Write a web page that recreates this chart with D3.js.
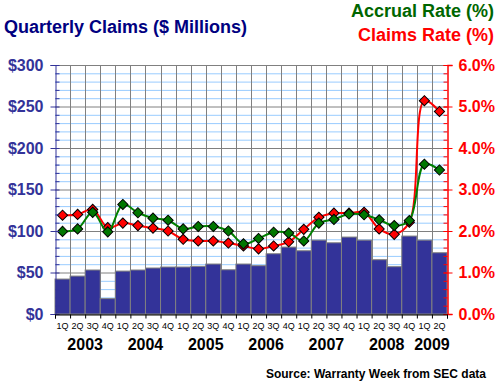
<!DOCTYPE html>
<html>
<head>
<meta charset="utf-8">
<script src="https://cdn.jsdelivr.net/npm/d3@7"></script>
<style>
  body { margin: 0; background: #fff; }
  svg { font-family: 'Liberation Sans', Arial, sans-serif; }
</style>
</head>
<body>
<div id="chart"></div>
<script>
// quarters 2003 1Q .. 2009 2Q
const quarters = [
  '2003-1Q', '2003-2Q', '2003-3Q', '2003-4Q',
  '2004-1Q', '2004-2Q', '2004-3Q', '2004-4Q',
  '2005-1Q', '2005-2Q', '2005-3Q', '2005-4Q',
  '2006-1Q', '2006-2Q', '2006-3Q', '2006-4Q',
  '2007-1Q', '2007-2Q', '2007-3Q', '2007-4Q',
  '2008-1Q', '2008-2Q', '2008-3Q', '2008-4Q',
  '2009-1Q', '2009-2Q'
]
const years = ['2003', '2004', '2005', '2006', '2007', '2008', '2009']

// $ millions
const claims = [42.1, 45.7, 53, 18.5, 51.7, 53, 55.4, 56.6, 56.6, 57.4, 60.2, 53.3, 60.2,
  58.2, 72.6, 80.6, 76.2, 89, 85.8, 92.7, 89, 65.4, 57, 93.9, 89, 73.8]
// percent
const claimsRate = [2.38, 2.40, 2.52, 2.08, 2.19, 2.13, 2.07, 2.0, 1.80, 1.76, 1.76, 1.71, 1.64,
  1.57, 1.64, 1.74, 2.04, 2.33, 2.43, 2.43, 2.45, 2.05, 1.92, 2.21, 5.14, 4.88]
const accrualRate = [1.99, 2.05, 2.45, 1.98, 2.64, 2.44, 2.31, 2.26, 2.05, 2.11, 2.11, 2.0, 1.69,
  1.82, 1.97, 1.95, 1.76, 2.19, 2.28, 2.41, 2.39, 2.27, 2.13, 2.25, 3.61, 3.47]

const leftTicks = [0, 50, 100, 150, 200, 250, 300]
const rightTicks = [0, 1, 2, 3, 4, 5, 6]

const margin = { top: 65, right: 53, bottom: 71, left: 55 }
const W = 500, H = 385
const width = W - margin.left - margin.right,
  height = H - margin.top - margin.bottom

const navy = '#333399'

const svg = d3.select('#chart').append('svg')
  .attr('width', W)
  .attr('height', H)

const g = svg.append('g')
  .attr('transform', 'translate(' + margin.left + ',' + margin.top + ')')

let xScale = d3.scaleBand()
  .domain(quarters)
  .range([0, width])

let xLin = d3.scaleLinear()
  .domain([0, quarters.length])
  .range([0, width])

let yLeft = d3.scaleLinear().domain([0, 300]).range([height, 0])
let yRight = d3.scaleLinear().domain([0, 6]).range([height, 0])

// minor gridlines
g.append('g')
  .selectAll('line')
  .data(d3.range(0, 301, 10).filter(v => v % 50 !== 0))
  .enter().append('line')
  .attr('x1', 0).attr('x2', width)
  .attr('y1', d => yLeft(d) + 0.5).attr('y2', d => yLeft(d) + 0.5)
  .style('stroke', '#99ccff')

// major gridlines
g.append('g')
  .selectAll('line')
  .data(leftTicks)
  .enter().append('line')
  .attr('x1', 0).attr('x2', width)
  .attr('y1', d => yLeft(d) + 0.5).attr('y2', d => yLeft(d) + 0.5)
  .style('stroke', '#808080')

g.append('g')
  .selectAll('line')
  .data(d3.range(1, quarters.length))
  .enter().append('line')
  .attr('x1', d => Math.round(xLin(d)) + 0.5).attr('x2', d => Math.round(xLin(d)) + 0.5)
  .attr('y1', 0).attr('y2', height)
  .style('stroke', '#808080')

// bars
g.append('g')
  .selectAll('rect')
  .data(claims)
  .enter().append('rect')
  .attr('x', (d, i) => xScale(quarters[i]))
  .attr('width', xScale.bandwidth())
  .attr('y', d => yLeft(d))
  .attr('height', d => height - yLeft(d))
  .style('fill', navy)
  .style('stroke', '#808080')
  .style('stroke-width', 1)

// lines + markers
const cx = i => xScale(quarters[i]) + xScale.bandwidth() / 2
const drawSeries = (data, color, markerFill) => {
  const line = d3.line()
    .x((d, i) => cx(i))
    .y(d => yRight(d))
    .curve(d3.curveCatmullRom.alpha(0.5))
  g.append('path')
    .datum(data)
    .attr('d', line)
    .style('fill', 'none')
    .style('stroke', color)
    .style('stroke-width', 2)
  g.append('g')
    .selectAll('path')
    .data(data)
    .enter().append('path')
    .attr('d', d3.symbol().type(d3.symbolSquare).size(52))
    .attr('transform', (d, i) => 'translate(' + cx(i) + ',' + yRight(d) + ') rotate(45)')
    .style('fill', markerFill)
    .style('stroke', '#000')
    .style('stroke-width', 1)
}
drawSeries(claimsRate, '#ff0000', '#ff0000')
drawSeries(accrualRate, '#008000', '#007700')

// left axis
let lAxis = d3.axisLeft(yLeft).tickValues(leftTicks).tickSize(5)
  .tickFormat(d => '$' + d)
let lGuide = g.append('g').attr('transform', 'translate(0.5,0)')
lAxis(lGuide)
lGuide.select('.domain').style('stroke', navy)
lGuide.selectAll('.tick line').style('stroke', navy)
lGuide.selectAll('text')
  .style('fill', navy).style('font-size', '16px').style('font-weight', 'bold')
  .attr('x', -12)
let lMinor = d3.axisLeft(yLeft).tickValues(d3.range(0, 301, 10)).tickSize(-4).tickFormat('')
let lmGuide = g.append('g').attr('transform', 'translate(0.5,0)')
lMinor(lmGuide)
lmGuide.select('.domain').remove()
lmGuide.selectAll('.tick line').style('stroke', navy)

// right axis
let rAxis = d3.axisRight(yRight).tickValues(rightTicks).tickSize(5)
  .tickFormat(d => d.toFixed(1) + '%')
let rGuide = g.append('g').attr('transform', 'translate(' + (width + 0.5) + ',0)')
rAxis(rGuide)
rGuide.select('.domain').style('stroke', '#ff0000').style('stroke-width', 1.5)
rGuide.selectAll('.tick line').style('stroke', '#ff0000').attr('x1', -4)
rGuide.selectAll('text')
  .style('fill', '#ff0000').style('font-size', '16px').style('font-weight', 'bold')
  .attr('x', 11)
let rMinor = d3.axisRight(yRight).tickValues(d3.range(0, 6.01, 0.2)).tickSize(-4).tickFormat('')
let rmGuide = g.append('g').attr('transform', 'translate(' + (width + 0.5) + ',0)')
rMinor(rmGuide)
rmGuide.select('.domain').remove()
rmGuide.selectAll('.tick line').style('stroke', '#ff0000')

// bottom axis
let bTicks = d3.axisBottom(xLin).tickValues(d3.range(0, quarters.length + 1)).tickSize(4).tickFormat('')
let bGuide = g.append('g').attr('transform', 'translate(0,' + (height + 0.5) + ')')
bTicks(bGuide)
bGuide.select('.domain').style('stroke', '#000')
bGuide.selectAll('.tick line').style('stroke', '#000')

let qAxis = d3.axisBottom(xScale).tickSize(0).tickFormat(d => d.split('-')[1])
let qGuide = g.append('g').attr('transform', 'translate(0,' + height + ')')
qAxis(qGuide)
qGuide.select('.domain').remove()
qGuide.selectAll('text')
  .attr('y', 9)
  .style('font-size', '9px').style('fill', '#000')

// year labels
g.append('g')
  .selectAll('text')
  .data(years)
  .enter().append('text')
  .attr('x', yr => {
    const idx = quarters.map((q, i) => q.startsWith(yr) ? i : -1).filter(i => i >= 0)
    return (cx(idx[0]) + cx(idx[idx.length - 1])) / 2
  })
  .attr('y', height + 36)
  .attr('text-anchor', 'middle')
  .style('font-size', '16px').style('font-weight', 'bold')
  .text(d => d)

// titles
svg.append('text')
  .attr('x', 4).attr('y', 33)
  .style('font-size', '18px').style('font-weight', 'bold').style('fill', '#000080')
  .text('Quarterly Claims ($ Millions)')
svg.append('text')
  .attr('x', 494).attr('y', 17).attr('text-anchor', 'end')
  .style('font-size', '18px').style('font-weight', 'bold').style('fill', '#006600')
  .text('Accrual Rate (%)')
svg.append('text')
  .attr('x', 494).attr('y', 41).attr('text-anchor', 'end')
  .style('font-size', '18px').style('font-weight', 'bold').style('fill', '#ff0000')
  .text('Claims Rate (%)')
svg.append('text')
  .attr('x', 486).attr('y', 378).attr('text-anchor', 'end')
  .style('font-size', '12px').style('font-weight', 'bold').style('fill', '#000')
  .text('Source: Warranty Week from SEC data')
</script>
</body>
</html>
